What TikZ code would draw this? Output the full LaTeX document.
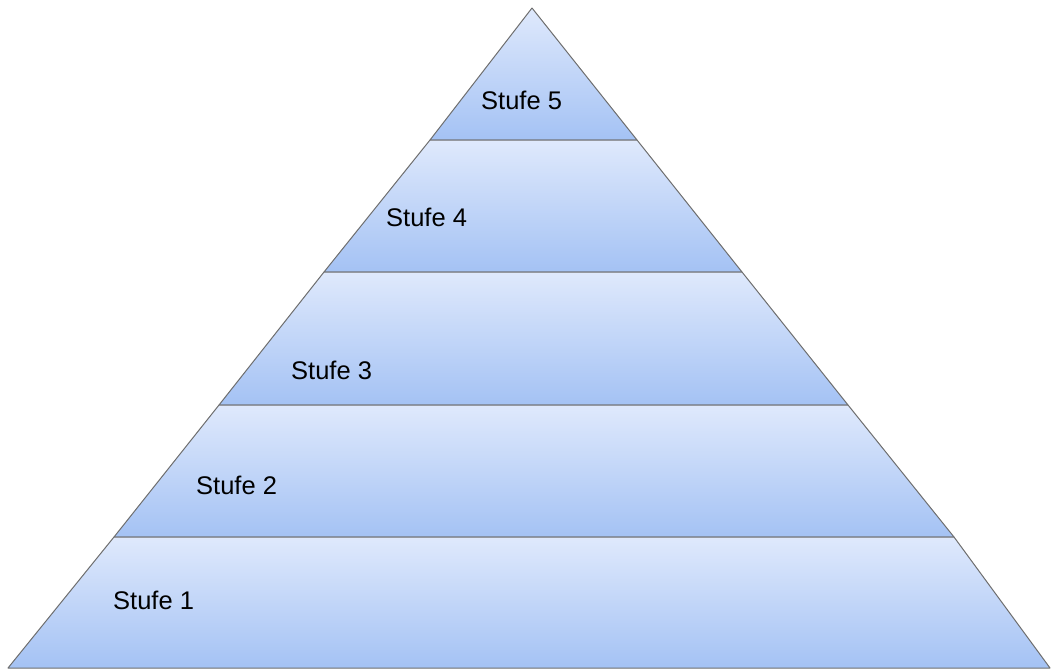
\documentclass[tikz,border=0pt]{standalone}
\usepackage{fontspec}
\setmainfont{Liberation Sans}
\definecolor{bandtop}{HTML}{DFE9FC}
\definecolor{bandbot}{HTML}{A4C2F4}
\definecolor{edgegray}{HTML}{6E6E6E}
\begin{document}
\begin{tikzpicture}[x=1pt, y=-1pt,
    band/.style = {top color=bandtop, bottom color=bandbot, draw=edgegray, line width=1pt, line join=round},
    tier/.style = {anchor=west, inner sep=0pt, font=\fontsize{25.5}{30}\selectfont}]
    \useasboundingbox (0,0) rectangle (1051,670);
    % corners of the bands
    \coordinate (a)  at (532,8);
    \coordinate (l4) at (430,140); \coordinate (r4) at (637,140);
    \coordinate (l3) at (324,272); \coordinate (r3) at (742,272);
    \coordinate (l2) at (219,405); \coordinate (r2) at (848,405);
    \coordinate (l1) at (114,537); \coordinate (r1) at (954,537);
    \coordinate (l0) at (8,668);   \coordinate (r0) at (1050,668);

    \shade[band] (a) -- (r4) -- (l4) -- cycle;
    \foreach \u/\l in {4/3, 3/2, 2/1, 1/0}
        \shade[band] (l\u) -- (r\u) -- (r\l) -- (l\l) -- cycle;

    \node[tier] (s5) at (481,100) {Stufe 5};
    \node[tier] (s4) at (386,217) {Stufe 4};
    \node[tier] (s3) at (291,370) {Stufe 3};
    \node[tier] (s2) at (196,485) {Stufe 2};
    \node[tier] (s1) at (113,600) {Stufe 1};
\end{tikzpicture}
\end{document}
